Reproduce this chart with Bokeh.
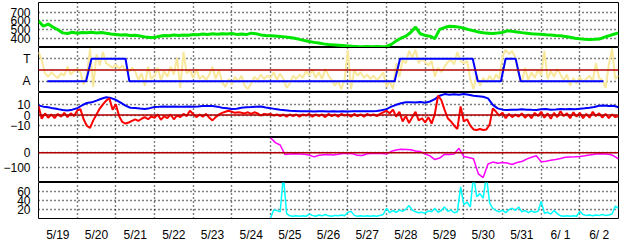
from bokeh.plotting import figure
from bokeh.layouts import column
from bokeh.models import Range1d, FixedTicker, Span, Grid
from bokeh.embed import file_html
from bokeh.resources import INLINE

# ---------------- data ----------------
day_labels = ["5/19", "5/20", "5/21", "5/22", "5/23", "5/24", "5/25", "5/26",
              "5/27", "5/28", "5/29", "5/30", "5/31", "6/ 1", "6/ 2"]

# time axis: days since 5/19 00:00
t3h = [i * 0.125 for i in range(121)]      # 3-hourly samples
t2h = [i / 12.0 for i in range(181)]       # 2-hourly samples

# panel 1 (green)
green = [600, 540, 565, 530, 500, 465, 458, 472, 462, 470,
         466, 472, 464, 470, 460, 452, 446, 440, 443, 436,
         438, 430, 420, 414, 412, 428, 436, 432, 440, 436,
         441, 438, 446, 443, 452, 448, 455, 450, 456, 452,
         458, 448, 452, 446, 462, 456, 442, 436, 433, 430,
         425, 420, 412, 404, 392, 378, 368, 358, 350, 341,
         335, 330, 326, 322, 318, 314, 311, 309, 310, 308,
         310, 309, 312, 335, 375, 405, 428, 470, 530, 455,
         436, 428, 400, 505, 525, 540, 536, 530, 518, 502,
         490, 475, 466, 462, 458, 463, 470, 488, 482, 475,
         468, 462, 456, 452, 449, 444, 440, 436, 433, 425,
         415, 405, 398, 392, 390, 392, 395, 415, 432, 450,
         465]

# panel 2 (yellow, 2-hourly)
yellow = [3.6, 2.9, 1.7, 1.4, 1.8, 1.5, 1.3, 1.7, 1.5, 2.3, 1.6, 1.9,
          2.1, 1.8, 0.7, 1.5, 3.9, 0.5, 3.4, 2.4, 3.6, 2.6, 2.4, 2.2,
          2.5, 2.1, 2.4, 2.0, 1.8, 2.2, 1.9, 1.1, 1.7, 0.6, 2.3, 1.2,
          1.5, 2.2, 1.1, 1.9, 1.4, 2.3, 1.6, 3.1, 0.4, 3.6, 1.7, 2.0,
          1.3, 2.1, 1.2, 1.5, 1.1, 1.6, 2.3, 1.2, 2.0, 0.9, 0.5, 1.2,
          0.7, 1.4, 1.0, 1.5, 0.6, 0.3, 0.8, 1.4, 1.1, 1.6, 1.2, 1.5,
          1.3, 1.8, 1.1, 1.7, 1.2, 0.4, 0.8, 1.5, 1.2, 1.6, 1.3, 1.9,
          1.5, 2.0, 1.3, 1.8, 1.2, 2.1, 1.5, 1.1, 0.6, 1.0, 0.3, 1.2,
          3.8, 0.3, 2.0, 1.5, 1.8, 1.3, 1.6, 1.2, 1.5, 1.1, 1.4, 1.8,
          0.5, 1.0, 0.3, 2.6, 1.4, 2.9, 2.6, 3.7, 3.1, 3.8, 2.6, 3.0,
          2.7, 2.4, 2.8, 1.4, 2.2, 1.8, 2.3, 2.7, 2.9, 2.5, 3.6, 2.8,
          2.6, 2.8, 1.2, 0.3, 1.6, 0.6, 1.3, 0.9, 1.5, 1.0, 1.6, 1.2,
          3.2, 3.8, 3.4, 3.7, 3.1, 1.6, 0.9, 2.2, 1.1, 1.8, 1.3, 2.0,
          1.5, 3.7, 1.2, 1.9, 1.4, 2.1, 1.6, 1.1, 1.6, 0.6, 1.3, 0.8,
          1.4, 0.9, 1.2, 1.5, 1.0, 2.6, 1.3, 1.1, 0.4, 2.5, 3.9, 1.2,
          1.5]

# panel 2 (blue state A=1 / T=3)
state_t = [0.23, 1.23, 1.37, 2.25, 2.35, 9.21, 9.35, 11.23, 11.36,
           11.96, 12.08, 12.34, 12.47, 14.61]
state_v = [1, 1, 3, 3, 1, 1, 3, 3, 1, 1, 3, 3, 1, 1]
state_ticks = [1, 3]
state_names = ["A", "T"]

# panel 3 (blue, 3-hourly)
blue3 = [9.0, 7.8, 7.2, 6.2, 5.5, 4.6, 4.2, 5.0, 6.3, 9.0,
         11.2, 11.8, 13.4, 15.2, 16.5, 15.8, 14.2, 11.5, 8.8, 6.8,
         6.5, 6.0, 5.6, 6.4, 7.5, 7.6, 7.9, 7.6, 8.0, 7.8,
         7.7, 8.0, 7.8, 7.9, 8.3, 8.5, 8.4, 7.8, 6.8, 6.3,
         5.6, 5.8, 6.8, 7.2, 7.4, 7.8, 8.0, 7.0, 6.4, 5.5,
         4.8, 4.4, 4.0, 3.8, 3.6, 3.4, 3.5, 3.3, 3.4, 3.5,
         3.3, 3.4, 3.2, 3.4, 3.3, 3.5, 3.4, 3.6, 3.4, 3.6,
         3.8, 4.5, 5.5, 7.8, 9.5, 11.0, 11.8, 12.0, 11.6, 12.2,
         11.5, 12.6, 14.8, 18.0, 19.5, 19.0, 19.4, 19.0, 19.5, 18.8,
         18.0, 17.6, 17.0, 15.5, 9.5, 6.2, 5.0, 4.7, 4.9, 5.0,
         5.3, 5.0, 4.8, 4.7, 5.3, 5.5, 5.0, 5.2, 5.5, 5.3,
         5.6, 5.4, 5.8, 6.2, 6.8, 7.5, 8.6, 8.8, 8.4, 8.6,
         7.2]

# panel 3 (red, 2-hourly)
red3 = [8.5, -3.5, 1.5, -2.5, 0.5, -3, 1, -1.5, 2, -2, 1.5, -1,
        4, 5.5, -4, -10, -12, -5, 0.5, 6, 10, 13.5, 15.5, 5,
        10, -1, -6.5, -8, -7, -5.5, -4, -5.5, -3.5, -2, -4, -1.5,
        -2.5, 0.5, -4.5, -1, -3, 0.5, -4, -0.5, -2, 1, -1, 4,
        1, -2, 0.5, -1.5, 1, -2.5, -5, -2, 0.5, 2, 3, 4,
        3, 2, 2.5, 2, 1.5, 2.5, 1, 2.5, 1.5, -0.5, 1, 0.5,
        1, -0.5, 0.5, -1, 0.5, -1.5, 0.5, -1, 0.5, -1.5, 0.5, -0.5,
        1, -1.5, 0.5, -1, 0.5, -2, 1, -1, 0.5, -1.5, 1, -0.5,
        0.5, -1.5, 1, -1, 0.5, -1.5, 1, -0.5, 0.5, -1, 1, 2.5,
        4, 1.5, 5, -1.5, 3, -6, -1, -7.5, -2, 3, -5, -3,
        -7, -2, -8, 1, 18, 14, 5, -3, -6, -10, -13, 8,
        -6, -4, -10, -13.5, -14, -13, -14, -13.5, -9, 6, 3, -0.5,
        2, -3, 1, -2, 0.5, -1.5, 1.5, -2.5, 0.5, -3, 2, -1,
        3, -2.5, 1.5, -3.5, 2, -2, 3.5, -1, 1.5, -3, 2.5, -1.5,
        2, -3, 1, -2.5, 3, -1, 1.5, -2.5, 1, -3, 0.5, -2,
        -1]

# panel 4 (magenta, 3-hourly from 5/25 00:00)
magenta = [100, 68, 52, -12, -8, -7, -8, -10, -15, -27,
           -16, -13, -12, -14, -10, -5, -5, -6, -17, -18,
           -6, -5, -4, -5, -8, 10, 18, 24, 22, 20,
           12, 8, -8, -20, -45, -35, -10, -12, -8, 30,
           -25, -32, -40, -140, -165, -75, -62, -70, -65, -68,
           -78, -65, -58, -42, -30, -20, -60, -56, -50, -45,
           -38, -30, -28, -27, -24, -20, -14, -10, -7, -8,
           -9, -20, -40]
t_magenta = t3h[48:]

# panel 5 (cyan, 2-hourly from 5/25 00:00)
cyan = [0, 18, 17, 14, 95, 10, 5, 4, 5, 4,
        5, 4, 9, 6, 4, 7, 5, 8, 5, 4,
        6, 5, 7, 5, 13, 15, 6, 4, 5, 4,
        5, 4, 5, 4, 6, 8, 22, 12, 17, 13,
        18, 15, 20, 28, 18, 14, 12, 13, 11, 16,
        14, 22, 13, 17, 25, 15, 18, 12, 14, 70,
        30, 36, 25, 95, 48, 55, 45, 95, 34, 22,
        17, 14, 18, 12, 19, 22, 17, 25, 14, 17,
        12, 16, 13, 15, 38, 11, 13, 9, 17, 10,
        5, 4, 5, 4, 5, 4, 15, 8, 6, 7,
        5, 7, 6, 8, 6, 7, 9, 27, 22]
t_cyan = t2h[72:]

# ---------------- layout ----------------
FONT = "Liberation Sans"
xr = Range1d(0, 15)
day_bounds = list(range(1, 15))
day_mids = [d + 0.5 for d in range(15)]


def panel(h, y0, y1, yticks, ylabels=None, top=0, bottom=0):
    p = figure(width=628, height=h, x_range=xr, y_range=Range1d(y0, y1),
               output_backend="svg", toolbar_location=None,
               x_axis_location="below" if bottom else None,
               y_axis_location="left",
               min_border_left=32, min_border_right=10,
               min_border_top=top, min_border_bottom=bottom)
    p.outline_line_color = "black"
    p.outline_line_width = 1
    p.outline_line_alpha = 1
    p.background_fill_color = "white"
    p.border_fill_color = "white"
    for g in p.grid:
        g.grid_line_color = None
    p.add_layout(Grid(dimension=0, ticker=FixedTicker(ticks=day_bounds),
                      grid_line_color="black", grid_line_dash="1 3",
                      grid_line_width=1.4))
    p.add_layout(Grid(dimension=1, ticker=FixedTicker(ticks=yticks),
                      grid_line_color="black", grid_line_dash="1 3",
                      grid_line_width=1.4))
    ax = p.yaxis[0]
    ax.ticker = FixedTicker(ticks=yticks)
    if ylabels is not None:
        ax.major_label_overrides = {k: v for k, v in zip(yticks, ylabels)}
    ax.axis_line_color = None
    ax.major_tick_line_color = None
    ax.minor_tick_line_color = None
    ax.major_label_standoff = 2
    ax.major_label_text_font = FONT
    ax.major_label_text_font_size = "12px"
    ax.major_label_text_color = "black"
    if bottom:
        xa = p.xaxis[0]
        xa.ticker = FixedTicker(ticks=day_mids)
        xa.major_label_overrides = {m: l for m, l in zip(day_mids, day_labels)}
        xa.axis_line_color = None
        xa.major_tick_line_color = None
        xa.minor_tick_line_color = None
        xa.major_label_standoff = 3
        xa.major_label_text_font = FONT
        xa.major_label_text_font_size = "12px"
        xa.major_label_text_color = "black"
    return p


REF = "#B00000"

p1 = panel(47, 300, 808, [400, 500, 600, 700], top=2)
p1.line(t3h, green, line_color="#00E600", line_width=3)

p2 = panel(45, 0, 4, state_ticks, state_names)
p2.line(t2h, yellow, line_color="#F9E89C", line_width=2)
p2.add_layout(Span(location=2, dimension="width", line_color=REF, line_width=1.5))
p2.line(state_t, state_v, line_color="#0000FF", line_width=2)

p3 = panel(45, -21, 21, [-10, 0, 10])
p3.line(t3h, blue3, line_color="#0000FF", line_width=2)
p3.line(t2h, red3, line_color="#FF0000", line_width=2)
p3.add_layout(Span(location=0, dimension="width", line_color=REF, line_width=1.5))

p4 = panel(45, -198, 102, [-100, 0])
p4.add_layout(Span(location=0, dimension="width", line_color=REF, line_width=1.5))
p4.line(t_magenta, magenta, line_color="#FF00FF", line_width=1.5)

p5 = panel(62, -1, 80, [20, 40, 60], bottom=17)
p5.line(t_cyan, cyan, line_color="#00FFFF", line_width=1.5)

layout = column(p1, p2, p3, p4, p5, spacing=0)

open("out.html", "w").write(file_html(layout, INLINE))
